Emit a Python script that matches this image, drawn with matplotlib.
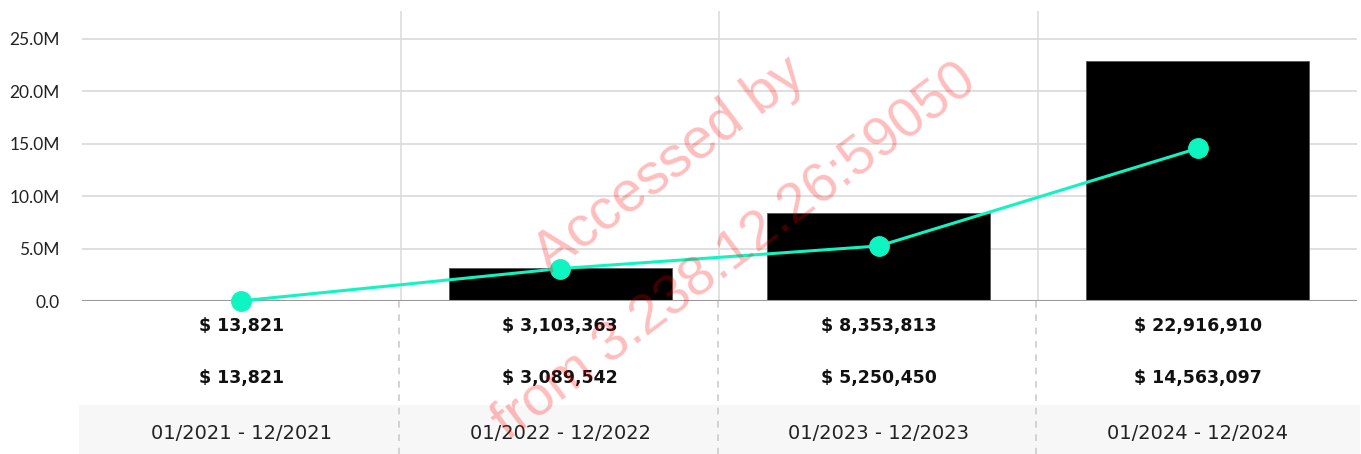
import matplotlib
matplotlib.use("Agg")
import matplotlib.pyplot as plt
import matplotlib.transforms as mtransforms
from matplotlib.ticker import FuncFormatter, MultipleLocator
from matplotlib.patches import Rectangle

periods = ["01/2021 - 12/2021", "01/2022 - 12/2022", "01/2023 - 12/2023", "01/2024 - 12/2024"]
bar_values = [13821, 3103363, 8353813, 22916910]
line_values = [13821, 3089542, 5250450, 14563097]

plt.rcParams['font.family'] = ['Lato', 'DejaVu Sans']

fig = plt.figure(figsize=(13.61, 4.54), dpi=100)
ax = fig.add_axes([82/1361, 1 - 301/454, (1357-82)/1361, 290/454])

x = list(range(len(periods)))
ax.bar(x, bar_values, width=0.70, color='black', edgecolor='#555555', linewidth=0.6, zorder=2)
ax.plot(x, line_values, color='#0ef5c2', linewidth=2.2, marker='o', markersize=14,
        markerfacecolor='#0ef5c2', markeredgecolor='#0ef5c2', zorder=4, clip_on=False)

ax.set_xlim(-0.5, 3.5)
ax.set_ylim(0, 27.67e6)
ax.yaxis.set_major_locator(MultipleLocator(5e6))
ax.yaxis.set_major_formatter(FuncFormatter(lambda v, p: f"{v/1e6:.1f}M" if v else "0.0"))
ax.set_xticks([])
ax.tick_params(axis='y', length=0, pad=16, labelsize=12.5, labelcolor='#222222')
for s in ax.spines.values():
    s.set_visible(False)
ax.grid(axis='y', color='#d9d9d9', linewidth=1.2, zorder=0)
for b in [0.5, 1.5, 2.5]:
    ax.axvline(b, color='#dddddd', linewidth=1.2, zorder=0)
ax.axhline(0, color='#999999', linewidth=1.5, zorder=3)

trans = mtransforms.blended_transform_factory(ax.transData, ax.transAxes)
ax.add_patch(Rectangle((-0.51, -0.53), 4.02, 0.53 - 0.3586, transform=trans,
                       facecolor='#f7f7f7', edgecolor='none', clip_on=False, zorder=0))
for b in [0.5, 1.5, 2.5]:
    ax.plot([b - 0.006, b - 0.006], [0, -0.53], transform=trans, color='#cccccc',
            linewidth=1.2, linestyle=(0, (4, 4)), clip_on=False, zorder=1)

tfam = ['DejaVu Sans']
for i in x:
    ax.text(i, -0.0862, f"$ {bar_values[i]:,}", transform=trans, ha='center', va='center',
            fontsize=12.5, fontweight='bold', color='#111111', family=tfam)
    ax.text(i, -0.2655, f"$ {line_values[i]:,}", transform=trans, ha='center', va='center',
            fontsize=12.5, fontweight='bold', color='#111111', family=tfam)
    ax.text(i, -0.4586, periods[i], transform=trans, ha='center', va='center',
            fontsize=14, color='#222222', family=tfam)

# watermark
fig.text(670/1361, 1 - 165/454, "Accessed by", rotation=37, ha='center', va='center',
         fontsize=41, color='red', alpha=0.26, family='Liberation Sans')
fig.text(735/1361, 1 - 252/454, "from 3.238.12.26:59050", rotation=37, ha='center', va='center',
         fontsize=40, color='red', alpha=0.26, family='Liberation Sans')

fig.savefig("out.png", dpi=100)
